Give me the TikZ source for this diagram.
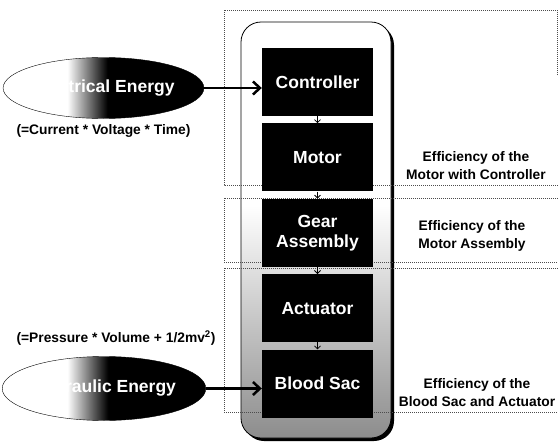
\documentclass[tikz,border=0pt]{standalone}
\usepackage{fontspec}
\setmainfont{Liberation Sans}
\usetikzlibrary{positioning, shapes.geometric, arrows.meta}
\definecolor{sacgray}{gray}{0.55}
\definecolor{regline}{gray}{0.3}
\pgfdeclarehorizontalshading{energyfade}{100bp}{color(0bp)=(white); color(41bp)=(white); color(51bp)=(black); color(100bp)=(black)}
\pgfdeclareverticalshading{pumpfade}{100bp}{color(0bp)=(sacgray); color(25bp)=(sacgray); color(53bp)=(white); color(100bp)=(white)}

\begin{document}
\begin{tikzpicture}[x=1pt, y=-1pt,
          b/.style={fill=black, text=white, font=\fontsize{17.5}{20}\selectfont\bfseries, minimum width=111pt, minimum height=68pt, inner sep=0pt, align=center},
          e/.style={ellipse, draw=black, shading=energyfade, text=white, font=\fontsize{17.5}{20}\selectfont\bfseries, minimum width=193pt, minimum height=61pt, inner sep=0pt},
          t/.style={font=\fontsize{13.8}{18}\selectfont\bfseries, align=center, inner sep=0pt},
          reg/.style={draw=regline, densely dotted, line width=1pt}]
        \useasboundingbox (0,0) rectangle (558,442);
        \fill[rounded corners=20pt] (244,25) rectangle (394,441);
        \draw[rounded corners=20pt, shading=pumpfade, line width=0.8pt] (241,22) rectangle (391,438);
        \draw[reg] (557,75) -- (557,10) -- (224,10) -- (224,185) -- (558,185);
        \draw[reg] (558,198) -- (224,198) -- (224,262) -- (558,262);
        \draw[reg] (558,268) -- (224,268) -- (224,412) -- (558,412);
        \node[b] (c) at (317.5,82) {Controller};
        \node[b, below=7pt of c] (m) {Motor};
        \node[b, below=7pt of m] (g) {Gear\\Assembly};
        \node[b, below=7pt of g] (a) {Actuator};
        \node[b, below=7pt of a] (s) {Blood Sac};
        \node[e] (el) at (103.5,88) {Electrical Energy};
        \node[e, minimum height=64pt] (hy) at (104,388.5) {Hydraulic Energy};
        \node[t, below=6pt of el] (cv) {(=Current * Voltage * Time)};
        \node[t] (pv) at (116,338) {(=Pressure * Volume + 1/2mv\textsuperscript{2})};
        \node[t] (ec) at (476,166) {Efficiency of the\\Motor with Controller};
        \node[t] (ea) at (472,236) {Efficiency of the\\Motor Assembly};
        \node[t] (eb) at (477,393) {Efficiency of the\\Blood Sac and Actuator};
        \draw[-{Straight Barb[length=7pt,width=13pt]}, line width=2.5pt] (el.east) -- (el.east -| c.west);
        \draw[-{Straight Barb[length=7pt,width=13pt]}, line width=2.5pt] (hy.east) -- (hy.east -| s.west);
        \foreach \u/\v in {c/m, m/g, g/a, a/s}
          \draw[-{Straight Barb[length=3pt,width=6pt]}, line width=0.8pt] (\u) -- (\v);
      \end{tikzpicture}
\end{document}
